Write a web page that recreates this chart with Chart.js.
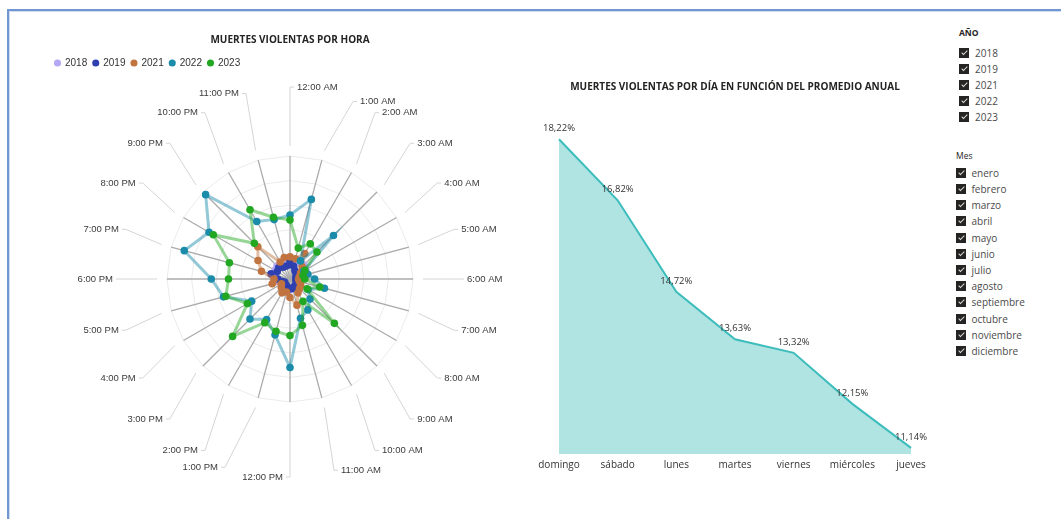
<!DOCTYPE html>
<html>
<head>
<meta charset="utf-8">
<script src="https://cdn.jsdelivr.net/npm/chart.js@4.4.1/dist/chart.umd.min.js"></script>
<style>
  html, body { margin: 0; padding: 0; background: #fff; width: 1061px; height: 519px; overflow: hidden; font-family: "Open Sans", sans-serif; }
  .frame { position: absolute; left: 7px; top: 9px; width: 1100px; height: 600px; border: 2px solid #7097d2; box-shadow: inset 1px 1px 0 #cfdcf0; }
  canvas { position: absolute; }
  #radar { left: 49px; top: 22px; }
  #area { left: 530px; top: 60px; }
  .slicer { position: absolute; top: 0; color: #4a4a4a; font-size: 10px; }
  .head { position: absolute; left: 0; height: 12px; line-height: 12px; white-space: nowrap; color: #252423; }
  .item { position: absolute; left: 0; height: 16px; line-height: 16px; white-space: nowrap; }
  .box { position: absolute; left: 0; top: 3px; width: 10px; height: 10px; background: #252423; }
  .box::after { content: ''; position: absolute; left: 3.5px; top: 1px; width: 2px; height: 5px; border: solid #d8d8d8; border-width: 0 1.5px 1.5px 0; transform: rotate(45deg); }
</style>
</head>
<body>
<div class="frame"></div>
<canvas id="radar" width="482" height="470"></canvas>
<canvas id="area" width="410" height="430"></canvas>
<div class="slicer" id="slicerAnio" style="left:959px"></div>
<div class="slicer" id="slicerMes" style="left:956px"></div>

<script>
// datos: muertes por hora y año
const horas = ['12:00 AM', '1:00 AM', '2:00 AM', '3:00 AM', '4:00 AM', '5:00 AM', '6:00 AM', '7:00 AM',
  '8:00 AM', '9:00 AM', '10:00 AM', '11:00 AM', '12:00 PM', '1:00 PM', '2:00 PM', '3:00 PM',
  '4:00 PM', '5:00 PM', '6:00 PM', '7:00 PM', '8:00 PM', '9:00 PM', '10:00 PM', '11:00 PM'];
const v2018 = [13, 15, 15, 16, 15, 10, 8, 7, 7, 7, 7, 8, 9, 8, 7, 7, 7, 9, 11, 13, 14, 15, 13, 12];
const v2019 = [15, 11, 8, 7, 6, 5, 5, 5, 6, 7, 7, 8, 8, 7, 6, 6, 5, 7, 10, 16, 12, 13, 11, 11];
const v2021 = [18, 17, 24, 14, 10, 8, 7, 8, 10, 11, 13, 22, 15, 11, 13, 10, 8, 15, 13, 24, 30, 37, 16, 18];
const v2022 = [52, 67, 17, 50, 13, 15, 20, 29, 17, 23, 29, 33, 72, 47, 38, 46, 36, 56, 64, 89, 76, 97, 54, 50];
const v2023 = [48, 26, 33, 31, 14, 11, 12, 25, 16, 51, 21, 39, 46, 44, 41, 66, 40, 54, 50, 51, 72, 41, 65, 52];

// datos: porcentaje por día de la semana
const dias = ['domingo', 'sábado', 'lunes', 'martes', 'viernes', 'miércoles', 'jueves'];
const porcentajes = [18.22, 16.82, 14.72, 13.63, 13.32, 12.15, 11.14];

// slicers
const anios = ['2018', '2019', '2021', '2022', '2023'];
const meses = ['enero', 'febrero', 'marzo', 'abril', 'mayo', 'junio', 'julio', 'agosto',
  'septiembre', 'octubre', 'noviembre', 'diciembre'];

Chart.defaults.font.family = '"Open Sans", sans-serif';
Chart.defaults.color = '#333';

function serie(label, values, color, order) {
  return {
    label: label,
    data: values,
    order: order,
    borderColor: color + '78',
    backgroundColor: color,
    borderWidth: 3,
    fill: false,
    pointRadius: 3.8,
    pointHoverRadius: 3.8,
    pointBackgroundColor: color,
    pointBorderWidth: 0
  };
}

// extra room under the legend so the radar sits lower
const legendGap = {
  id: 'legendGap',
  beforeInit(chart) {
    const fit = chart.legend.fit;
    chart.legend.fit = function () {
      fit.call(this);
      this.height += 78;
    };
  }
};

// hour labels with leader lines, power bi style
const labelNudge = { 1: [19, 8], 13: [-21, -3] };
const hourLabels = {
  id: 'hourLabels',
  afterDraw(chart) {
    const scale = chart.scales.r;
    const ctx = chart.ctx;
    const cx = scale.xCenter, cy = scale.yCenter;
    ctx.save();
    ctx.font = '9.5px "Liberation Sans", Arial, sans-serif';
    ctx.textBaseline = 'middle';
    ctx.lineWidth = 1;
    horas.forEach((h, i) => {
      const p = scale.getPointPosition(i, 100);
      const ux = (p.x - cx) / 100, uy = (p.y - cy) / 100;
      const start = scale.getPointPosition(i, scale.drawingArea + 10);
      const n = labelNudge[i] || [0, 0];
      const ax = cx + ux * 170 + n[0];
      const ay = cy + uy * (uy < 0 ? 192 : 198) + n[1];
      const side = (ux > 0.01 || (Math.abs(ux) <= 0.01 && uy < 0)) ? 1 : -1;
      ctx.strokeStyle = '#d5d5d5';
      ctx.beginPath();
      ctx.moveTo(start.x, start.y);
      ctx.lineTo(ax, ay);
      ctx.lineTo(ax + side * 4, ay);
      ctx.stroke();
      ctx.fillStyle = '#3a3a3a';
      ctx.textAlign = side > 0 ? 'left' : 'right';
      ctx.fillText(h, ax + side * 7, ay);
    });
    ctx.restore();
  }
};

new Chart(document.getElementById('radar'), {
  type: 'radar',
  data: {
    labels: horas,
    datasets: [
      serie('2018', v2018, '#b4a8f4', 4),
      serie('2019', v2019, '#2e3fb0', 3),
      serie('2021', v2021, '#c1743f', 2),
      serie('2022', v2022, '#1a8ba9', 1),
      serie('2023', v2023, '#22a722', 0)
    ]
  },
  options: {
    responsive: false,
    animation: false,
    layout: { padding: { left: 0, right: 0, top: 0, bottom: 90 } },
    plugins: {
      title: {
        display: true,
        text: 'MUERTES VIOLENTAS POR HORA',
        color: '#252423',
        font: { size: 10, weight: 'bold' },
        padding: { top: 12, bottom: 6 }
      },
      legend: {
        align: 'start',
        labels: {
          usePointStyle: true,
          pointStyle: 'circle',
          boxWidth: 5,
          boxHeight: 5,
          padding: 6,
          color: '#333',
          font: { size: 10, family: '"Liberation Sans", Arial, sans-serif' },
          sort: (a, b) => a.datasetIndex - b.datasetIndex
        }
      },
      tooltip: { enabled: false }
    },
    scales: {
      r: {
        min: 0,
        max: 100,
        ticks: { display: false, stepSize: 20 },
        grid: { color: '#ebebeb', lineWidth: 1 },
        angleLines: { color: '#ababab', lineWidth: 1.3 },
        pointLabels: { display: false }
      }
    }
  },
  plugins: [legendGap, hourLabels]
});

// etiquetas de porcentaje sobre la línea
const pctLabels = {
  id: 'pctLabels',
  afterDatasetsDraw(chart) {
    const ctx = chart.ctx;
    const meta = chart.getDatasetMeta(0);
    ctx.save();
    ctx.font = '9.5px "Open Sans", sans-serif';
    ctx.fillStyle = '#333';
    ctx.textAlign = 'center';
    ctx.textBaseline = 'middle';
    meta.data.forEach((pt, i) => {
      ctx.fillText(porcentajes[i].toFixed(2).replace('.', ',') + '%', pt.x, pt.y - 11);
    });
    ctx.restore();
  }
};

new Chart(document.getElementById('area'), {
  type: 'line',
  data: {
    labels: dias,
    datasets: [{
      data: porcentajes,
      borderColor: '#3dbcbc',
      backgroundColor: '#afe4e2',
      borderWidth: 2,
      fill: 'start',
      tension: 0,
      pointRadius: 0
    }]
  },
  options: {
    responsive: false,
    animation: false,
    layout: { padding: { left: 29, right: 29, top: 0, bottom: 14 } },
    plugins: {
      title: {
        display: true,
        text: 'MUERTES VIOLENTAS POR DÍA EN FUNCIÓN DEL PROMEDIO ANUAL',
        color: '#252423',
        font: { size: 10, weight: 'bold' },
        padding: { top: 21, bottom: 34 }
      },
      legend: { display: false },
      tooltip: { enabled: false }
    },
    scales: {
      x: {
        grid: { display: false, drawTicks: false },
        border: { display: false },
        ticks: { padding: 5, color: '#333', font: { size: 10 } }
      },
      y: { display: false, min: 11, max: 18.5 }
    }
  },
  plugins: [pctLabels]
});

// slicers de la derecha
function buildSlicer(el, title, items, headY, firstY, step, textX, bold) {
  const head = document.createElement('div');
  head.className = 'head';
  head.textContent = title;
  head.style.top = (headY - 6) + 'px';
  head.style.fontSize = '8.5px';
  if (bold) head.style.fontWeight = 'bold';
  el.appendChild(head);
  items.forEach((txt, i) => {
    const row = document.createElement('div');
    row.className = 'item';
    row.style.top = (firstY + i * step - 8) + 'px';
    row.innerHTML = '<span class="box"></span><span style="position:absolute;left:' + textX + 'px">' + txt + '</span>';
    el.appendChild(row);
  });
}
buildSlicer(document.getElementById('slicerAnio'), 'AÑO', anios, 33, 52.5, 16.05, 16, true);
buildSlicer(document.getElementById('slicerMes'), 'Mes', meses, 156, 172.7, 16.2, 15.5, false);
</script>
</body>
</html>
